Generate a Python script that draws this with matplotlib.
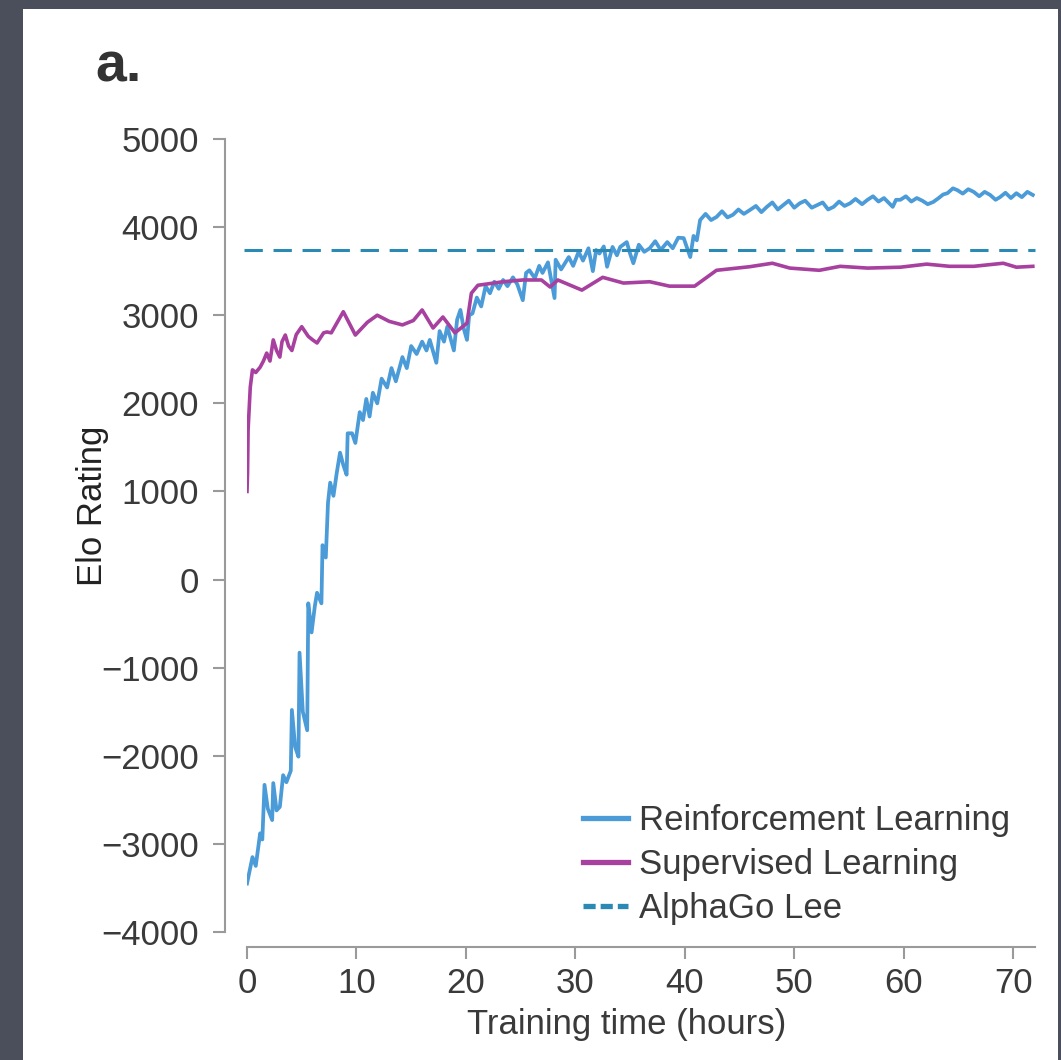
import matplotlib
matplotlib.use("Agg")
import matplotlib.pyplot as plt
from matplotlib.patches import Rectangle

plt.rcParams['font.family'] = ['Liberation Sans', 'DejaVu Sans']

# Reinforcement learning curve (hours, Elo)
rl_hours = [0, 0.5, 0.8, 1.2, 1.4, 1.6, 1.9, 2.3, 2.4, 2.7, 3.0, 3.3, 3.6, 4.0, 4.1, 4.4, 4.7,
            4.8, 5.1, 5.5, 5.6, 5.9, 6.2, 6.4, 6.8, 6.9, 7.2, 7.4, 7.6, 7.9, 8.2, 8.5, 8.8, 9.1,
            9.2, 9.6, 9.9, 10.3, 10.6, 10.9, 11.2, 11.5, 11.9, 12.3, 12.8, 13.2, 13.6, 14.2,
            14.6, 15.0, 15.5, 16.0, 16.4, 16.7, 17.3, 17.6, 18.0, 18.3, 18.9, 19.2, 19.5, 19.8,
            20.1, 20.3, 20.6, 21.0, 21.4, 21.8, 22.2, 22.6, 23.0, 23.4, 23.8, 24.3, 24.7, 25.2,
            25.5, 25.8, 26.3, 26.7, 27.0, 27.5, 28.1, 28.2, 28.7, 29.4, 29.8, 30.3, 30.7, 31.2,
            31.6, 31.9, 32.2, 32.6, 32.9, 33.4, 33.8, 34.1, 34.7, 35.0, 35.3, 35.8, 36.3, 36.8,
            37.3, 37.8, 38.4, 38.9, 39.4, 39.9, 40.5, 40.8, 41.1, 41.4, 41.9, 42.4, 42.9, 43.4,
            43.9, 44.4, 44.9, 45.4, 45.9, 46.5, 47.0, 47.5, 48.0, 48.5, 49.0, 49.5, 50.0, 50.5,
            51.0, 51.6, 52.1, 52.6, 53.1, 53.6, 54.1, 54.6, 55.1, 55.6, 56.2, 56.7, 57.2, 57.7,
            58.2, 58.6, 59.0, 59.3, 59.7, 60.2, 60.7, 61.2, 61.7, 62.2, 62.7, 63.2, 63.6, 64.0,
            64.5, 64.9, 65.4, 65.9, 66.4, 66.9, 67.4, 67.9, 68.4, 68.8, 69.3, 69.8, 70.3, 70.8,
            71.3, 71.8]
rl_elo = [-3450, -3150, -3250, -2880, -2950, -2330, -2600, -2730, -2310, -2620, -2580, -2220,
          -2300, -2170, -1480, -1900, -2010, -830, -1500, -1710, -270, -600, -300, -150, -270,
          390, 250, 870, 1100, 950, 1210, 1440, 1300, 1190, 1660, 1660, 1550, 1900, 1810, 2050,
          1850, 2120, 2000, 2280, 2180, 2400, 2250, 2525, 2400, 2650, 2560, 2700, 2600, 2720,
          2460, 2820, 2700, 2870, 2600, 2950, 3060, 2850, 2720, 3000, 3020, 3200, 3100, 3330,
          3250, 3380, 3300, 3400, 3330, 3430, 3350, 3170, 3480, 3510, 3420, 3560, 3480, 3600,
          3195, 3630, 3520, 3660, 3560, 3720, 3620, 3760, 3500, 3740, 3700, 3780, 3550, 3775,
          3680, 3775, 3830, 3700, 3590, 3800, 3720, 3760, 3840, 3740, 3830, 3760, 3880, 3875,
          3660, 3900, 3850, 4080, 4150, 4080, 4115, 4180, 4110, 4140, 4200, 4150, 4190, 4240,
          4170, 4230, 4280, 4200, 4250, 4300, 4220, 4270, 4300, 4220, 4250, 4280, 4200, 4230,
          4290, 4240, 4270, 4320, 4260, 4310, 4350, 4290, 4330, 4280, 4230, 4310, 4310, 4350,
          4290, 4330, 4300, 4260, 4285, 4330, 4370, 4385, 4440, 4420, 4380, 4430, 4400, 4350,
          4400, 4365, 4310, 4340, 4390, 4330, 4385, 4340, 4400, 4365]

# Supervised learning curve (hours, Elo)
sl_hours = [0, 0.05, 0.1, 0.3, 0.5, 0.8, 1.2, 1.5, 1.8, 2.1, 2.4, 2.7, 3.0, 3.2, 3.5, 3.8, 4.1,
            4.5, 5.0, 5.6, 6.0, 6.4, 7.0, 7.3, 7.7, 8.8, 9.9, 11.0, 11.9, 13.0, 14.2, 15.2, 16.0,
            17.0, 17.9, 19.0, 20.1, 20.5, 21.1, 23.4, 25.2, 26.9, 27.7, 28.4, 30.6, 32.5, 34.4,
            36.8, 38.6, 40.9, 42.9, 45.9, 48.0, 49.6, 52.3, 54.2, 56.7, 59.7, 62.1, 64.2, 66.4,
            69.1, 70.3, 71.8]
sl_elo = [1000, 1210, 1700, 2185, 2380, 2350, 2410, 2480, 2570, 2480, 2720, 2600, 2525, 2700,
          2775, 2650, 2600, 2780, 2870, 2760, 2720, 2685, 2800, 2810, 2800, 3040, 2775, 2920,
          3000, 2930, 2890, 2940, 3060, 2855, 2980, 2800, 2910, 3250, 3340, 3380, 3400, 3400,
          3320, 3400, 3285, 3430, 3365, 3380, 3330, 3330, 3510, 3550, 3590, 3535, 3510, 3555,
          3535, 3545, 3580, 3555, 3555, 3590, 3545, 3555]

alphago_lee = 3740
x_ticks = [0, 10, 20, 30, 40, 50, 60, 70]
y_ticks = [-4000, -3000, -2000, -1000, 0, 1000, 2000, 3000, 4000, 5000]

W, H = 1061, 1060
fig = plt.figure(figsize=(W / 100, H / 100), dpi=100, facecolor='#4b4f5c')
fig.patches.append(Rectangle((23 / W, 0), (1058 - 23) / W, 1 - 9 / H,
                             transform=fig.transFigure, facecolor='white',
                             edgecolor='none', zorder=-5))

ax = fig.add_axes([247 / W, 1 - 932 / H, (1035 - 247) / W, (932 - 139) / H])
ax.set_facecolor('none')

ax.plot(rl_hours, rl_elo, color='#4a9bd7', lw=2.7, label='Reinforcement Learning')
ax.plot(sl_hours, sl_elo, color='#a7409e', lw=2.6, label='Supervised Learning')
ax.plot([-0.3, 72], [alphago_lee, alphago_lee], color='#2a8ab4', lw=2.2,
        dashes=(6, 3.5), label='AlphaGo Lee', clip_on=False)

ax.set_xlim(0, 72)
ax.set_ylim(-4000, 5000)
ax.set_xticks(x_ticks)
ax.set_yticks(y_ticks)
ax.set_yticklabels([str(v).replace('-', '\u2212') for v in y_ticks])

for side in ['top', 'right']:
    ax.spines[side].set_visible(False)
ax.spines['left'].set_position(('outward', 16))
ax.spines['bottom'].set_position(('outward', 11))
ax.spines['left'].set_bounds(-4000, 5000)
ax.spines['bottom'].set_bounds(0, 72)
for side in ['left', 'bottom']:
    ax.spines[side].set_color('#9a9a9a')
    ax.spines[side].set_linewidth(1.5)
ax.tick_params(axis='both', colors='#9a9a9a', width=1.5, length=8.5,
               labelsize=25, labelcolor='#3a3a3a')
ax.tick_params(axis='y', pad=10)
ax.tick_params(axis='x', pad=6)

ax.set_xlabel('Training time (hours)', fontsize=25, color='#3a3a3a')
ax.set_ylabel('Elo Rating', fontsize=25, color='#222222')
ax.xaxis.set_label_coords(0.482, -0.117)
ax.xaxis.label.set_va('center')
ax.yaxis.set_label_coords(-0.196, 0.538)
ax.yaxis.label.set_va('center')

leg = ax.legend(loc='upper left', bbox_to_anchor=(583 / W, 1 - 804 / H),
                bbox_transform=fig.transFigure, frameon=False, fontsize=25,
                borderpad=0, borderaxespad=0, handlelength=1.3, handletextpad=0.32,
                labelspacing=0.32)
for line in leg.get_lines():
    line.set_linewidth(3.8)
leg.get_lines()[2].set_dashes((2.3, 0.95))
for t in leg.get_texts():
    t.set_color('#3a3a3a')

fig.text(95 / W, 1 - 82 / H, 'a.', fontsize=40, fontweight='bold', color='#333333',
         ha='left', va='baseline')

fig.savefig('out.png', dpi=100, facecolor=fig.get_facecolor())
